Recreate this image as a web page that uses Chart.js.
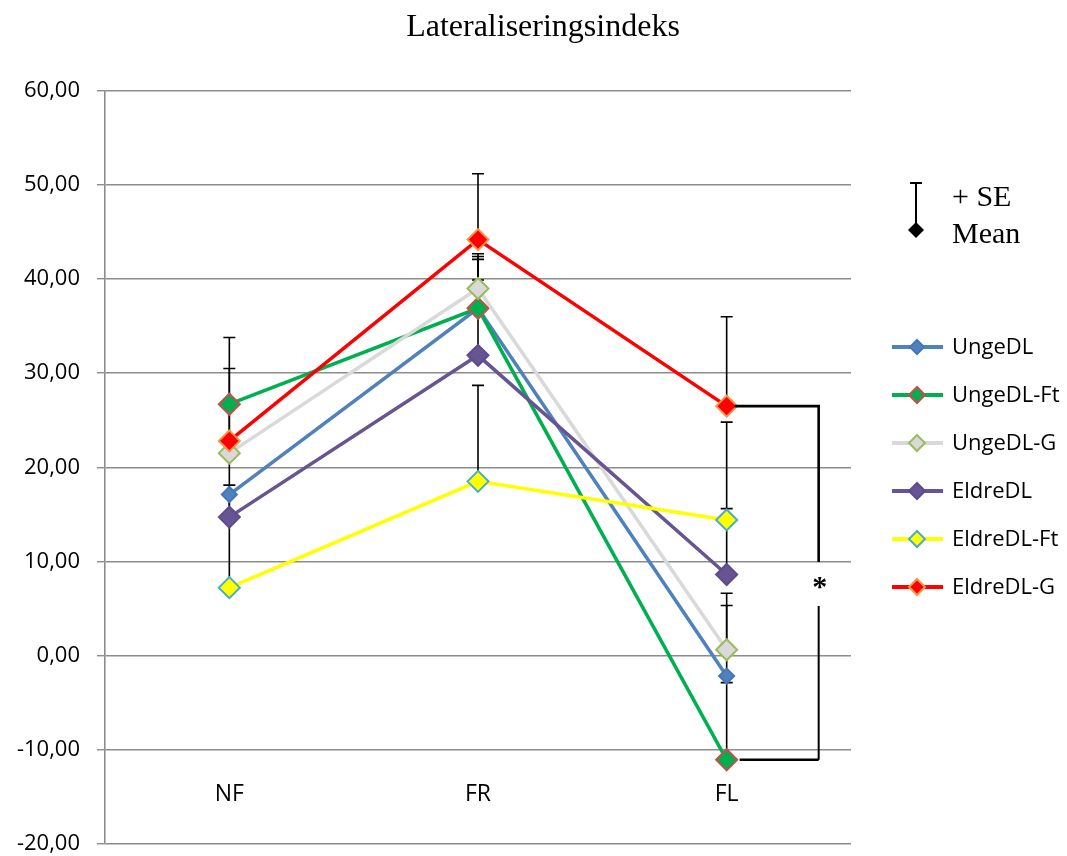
<!DOCTYPE html>
<html>
<head>
<meta charset="utf-8">
<script src="https://cdn.jsdelivr.net/npm/chart.js@4/dist/chart.umd.min.js"></script>
<style>
  html, body { margin: 0; padding: 0; background: #ffffff; }
  #wrap { width: 1067px; height: 856px; }
</style>
</head>
<body>
<div id="wrap"><canvas id="chart" width="1067" height="856"></canvas></div>
<script>
// Categories on the horizontal axis
const categories = ['NF', 'FR', 'FL'];

// Series names
const seriesNames = ['UngeDL', 'UngeDL-Ft', 'UngeDL-G', 'EldreDL', 'EldreDL-Ft', 'EldreDL-G'];

// Mean values per series (NF, FR, FL)
const ungeDL    = [17.1, 36.9, -2.2];
const ungeDLFt  = [26.7, 36.9, -11.1];
const ungeDLG   = [21.5, 39.0, 0.6];
const eldreDL   = [14.7, 31.9, 8.6];
const eldreDLFt = [7.2, 18.5, 14.4];
const eldreDLG  = [22.8, 44.2, 26.5];

// Standard errors per series (drawn upwards from the mean)
const ungeDLSE    = [4.4, 5.2, 7.5];
const ungeDLFtSE  = [7.1, 5.5, 8.2];
const ungeDLGSE   = [5.2, 3.7, 6.0];
const eldreDLSE   = [2.4, 8.0, 7.0];
const eldreDLFtSE = [10.9, 10.2, 10.4];
const eldreDLGSE  = [7.7, 7.0, 9.5];

// Value axis range and step
const yMin = -20, yMax = 60, yStep = 10;

const seriesValues = [ungeDL, ungeDLFt, ungeDLG, eldreDL, eldreDLFt, eldreDLG];
const seriesSE = [ungeDLSE, ungeDLFtSE, ungeDLGSE, eldreDLSE, eldreDLFtSE, eldreDLGSE];

const styles = [
  { line: '#4F81BD', fill: '#4F81BD', border: '#4577B5', r: 7.5 },
  { line: '#00B050', fill: '#00B050', border: '#C0504D', r: 10.5 },
  { line: '#D9D9D9', fill: '#D9D9D9', border: '#9BBB59', r: 10.5 },
  { line: '#675492', fill: '#675492', border: '#5F4B8B', r: 10.5 },
  { line: '#FFFF00', fill: '#FFFF00', border: '#4BACC6', r: 10.5 },
  { line: '#FF0000', fill: '#FF0000', border: '#F79646', r: 10.5 }
];

const datasets = seriesNames.map((name, i) => ({
  label: name,
  data: seriesValues[i],
  se: seriesSE[i],
  borderColor: styles[i].line,
  backgroundColor: styles[i].fill,
  borderWidth: 3.5,
  pointStyle: 'rectRot',
  pointRadius: styles[i].r,
  pointHoverRadius: styles[i].r,
  pointBackgroundColor: styles[i].fill,
  pointBorderColor: styles[i].border,
  pointBorderWidth: 2,
  tension: 0,
  fill: false,
  order: seriesNames.length - i
}));

const sansFont = '"Open Sans", "Liberation Sans", sans-serif';
const serifFont = '"Liberation Serif", "DejaVu Serif", serif';

// Error bars: vertical line from the mean up to mean + SE with a small cap
const errorBars = {
  id: 'errorBars',
  beforeDatasetsDraw(chart) {
    const ctx = chart.ctx;
    const y = chart.scales.y;
    ctx.save();
    ctx.strokeStyle = '#000000';
    ctx.lineWidth = 1.6;
    chart.data.datasets.forEach((ds, di) => {
      const meta = chart.getDatasetMeta(di);
      meta.data.forEach((pt, i) => {
        const top = y.getPixelForValue(ds.data[i] + ds.se[i]);
        ctx.beginPath();
        ctx.moveTo(pt.x, pt.y);
        ctx.lineTo(pt.x, top);
        ctx.moveTo(pt.x - 6, top);
        ctx.lineTo(pt.x + 6, top);
        ctx.stroke();
      });
    });
    ctx.restore();
  }
};

// Title, category labels, significance bracket, SE key and series legend
const decorations = {
  id: 'decorations',
  afterDraw(chart) {
    const ctx = chart.ctx;
    const xs = chart.scales.x;
    const ys = chart.scales.y;
    ctx.save();

    // Title
    ctx.fillStyle = '#000000';
    ctx.font = '32px ' + serifFont;
    ctx.textAlign = 'center';
    ctx.textBaseline = 'alphabetic';
    ctx.fillText('Lateraliseringsindeks', 543, 36);

    // Category labels
    ctx.font = '23px ' + sansFont;
    ctx.textBaseline = 'middle';
    categories.forEach((c, i) => {
      ctx.fillText(c, xs.getPixelForValue(i), 794);
    });

    // Significance bracket between EldreDL-G and UngeDL-Ft at FL
    const fx = xs.getPixelForValue(2);
    const yTop = ys.getPixelForValue(eldreDLG[2]);
    const yBot = ys.getPixelForValue(ungeDLFt[2]);
    const bx = fx + 92;
    const starY = ys.getPixelForValue(7.8);
    ctx.strokeStyle = '#000000';
    ctx.lineWidth = 2.6;
    ctx.beginPath();
    ctx.moveTo(fx + 8, yTop);
    ctx.lineTo(bx, yTop);
    ctx.lineTo(bx, starY - 20);
    ctx.stroke();
    ctx.lineWidth = 2;
    ctx.beginPath();
    ctx.moveTo(bx, starY + 24);
    ctx.lineTo(bx, yBot);
    ctx.stroke();
    ctx.lineWidth = 2.6;
    ctx.beginPath();
    ctx.moveTo(bx, yBot);
    ctx.lineTo(fx + 13, yBot);
    ctx.stroke();
    ctx.font = 'bold 30px ' + serifFont;
    ctx.textAlign = 'center';
    ctx.textBaseline = 'middle';
    ctx.fillText('*', bx + 1, starY + 6);

    // SE key
    const kx = 916;
    ctx.lineWidth = 2;
    ctx.beginPath();
    ctx.moveTo(kx, 183);
    ctx.lineTo(kx, 230);
    ctx.moveTo(kx - 6, 183);
    ctx.lineTo(kx + 6, 183);
    ctx.stroke();
    ctx.beginPath();
    ctx.moveTo(kx, 222);
    ctx.lineTo(kx + 8, 230);
    ctx.lineTo(kx, 238);
    ctx.lineTo(kx - 8, 230);
    ctx.closePath();
    ctx.fillStyle = '#000000';
    ctx.fill();
    ctx.font = '30px ' + serifFont;
    ctx.textAlign = 'left';
    ctx.textBaseline = 'alphabetic';
    ctx.fillText('+ SE', 952, 206);
    ctx.fillText('Mean', 952, 243);

    // Series legend
    ctx.font = '22px ' + sansFont;
    ctx.textBaseline = 'middle';
    chart.data.datasets.forEach((ds, i) => {
      const ly = 347 + i * 48;
      ctx.strokeStyle = ds.borderColor;
      ctx.lineWidth = 4;
      ctx.beginPath();
      ctx.moveTo(892, ly);
      ctx.lineTo(943, ly);
      ctx.stroke();
      const r = i === 0 ? 7 : 8;
      ctx.beginPath();
      ctx.moveTo(917, ly - r);
      ctx.lineTo(917 + r, ly);
      ctx.lineTo(917, ly + r);
      ctx.lineTo(917 - r, ly);
      ctx.closePath();
      ctx.fillStyle = ds.pointBackgroundColor;
      ctx.fill();
      ctx.strokeStyle = ds.pointBorderColor;
      ctx.lineWidth = 2;
      ctx.stroke();
      ctx.fillStyle = '#000000';
      ctx.fillText(ds.label, 952, ly + 1);
    });

    ctx.restore();
  }
};

new Chart(document.getElementById('chart'), {
  type: 'line',
  data: { labels: categories, datasets: datasets },
  options: {
    responsive: false,
    animation: false,
    events: [],
    layout: { padding: { left: 0, top: 91, right: 216, bottom: 12 } },
    plugins: {
      legend: { display: false },
      title: { display: false },
      tooltip: { enabled: false }
    },
    scales: {
      x: {
        type: 'category',
        offset: true,
        display: false
      },
      y: {
        min: yMin,
        max: yMax,
        afterFit(scale) {
          scale.width = 105;
          scale.paddingTop = 0;
          scale.paddingBottom = 0;
        },
        ticks: {
          stepSize: yStep,
          color: '#000000',
          padding: 17,
          font: { family: sansFont, size: 22 },
          callback: v => v.toFixed(2).replace('.', ',')
        },
        grid: {
          color: '#8C8C8C',
          lineWidth: 1.4,
          tickLength: 8
        },
        border: { color: '#8C8C8C', width: 1.6 }
      }
    }
  },
  plugins: [errorBars, decorations]
});
</script>
</body>
</html>
